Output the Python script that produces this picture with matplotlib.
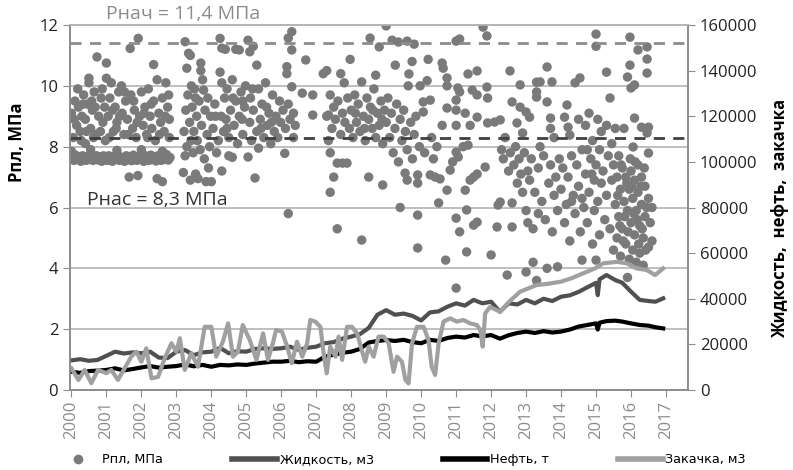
import numpy as np
import matplotlib
matplotlib.use('Agg')
import matplotlib.pyplot as plt
from matplotlib.lines import Line2D

plt.rcParams['font.family'] = ['Open Sans', 'DejaVu Sans']

# Рпл, МПа (год, значение) — по периодам
rpl_2000_2002 = [
    (2000.02, 7.62), (2000.07, 7.55), (2000.12, 7.72), (2000.17, 7.58), (2000.22, 7.66), (2000.27, 7.52),
    (2000.32, 7.7), (2000.37, 7.6), (2000.42, 7.55), (2000.47, 7.68), (2000.52, 7.58), (2000.57, 7.74),
    (2000.62, 7.55), (2000.67, 7.63), (2000.72, 7.7), (2000.77, 7.56), (2000.82, 7.66), (2000.87, 7.52),
    (2000.92, 7.7), (2000.97, 7.6), (2001.02, 7.55), (2001.07, 7.7), (2001.12, 7.6), (2001.17, 7.52),
    (2001.22, 7.68), (2001.27, 7.58), (2001.32, 7.74), (2001.37, 7.55), (2001.42, 7.65), (2001.47, 7.6),
    (2001.52, 7.52), (2001.57, 7.7), (2001.62, 7.58), (2001.67, 7.66), (2001.72, 7.54), (2001.77, 7.72),
    (2001.82, 7.6), (2001.87, 7.55), (2001.92, 7.68), (2001.97, 7.58), (2002.02, 7.64), (2002.07, 7.52),
    (2002.12, 7.7), (2002.17, 7.6), (2002.22, 7.55), (2002.27, 7.72), (2002.32, 7.58), (2002.37, 7.65),
    (2002.42, 7.53), (2002.47, 7.7), (2002.52, 7.6), (2002.57, 7.55), (2002.62, 7.68), (2002.67, 7.58),
    (2002.72, 7.74), (2002.77, 7.56), (2002.82, 7.64),
    (2000.0, 7.85), (2000.55, 7.9), (2001.3, 7.88), (2002.0, 7.9), (2002.6, 7.85),
    (2000.0, 9.1), (2000.05, 8.3), (2000.1, 9.5), (2000.15, 8.7), (2000.2, 9.3), (2000.25, 8.5),
    (2000.3, 9.0), (2000.35, 9.7), (2000.4, 8.9), (2000.45, 9.4), (2000.5, 10.25), (2000.5, 10.1),
    (2000.55, 8.6), (2000.6, 9.2), (2000.65, 9.8), (2000.7, 8.4), (2000.73, 10.95), (2000.78, 9.0),
    (2000.85, 9.6), (2000.9, 8.8), (2000.95, 9.3), (2000.97, 8.2), (2000.4, 8.1),
    (2000.08, 8.9), (2000.18, 9.9), (2000.28, 8.2), (2000.33, 9.4), (2000.43, 8.5), (2000.58, 9.5),
    (2000.63, 8.3), (2000.68, 9.3), (2000.83, 8.5), (2000.88, 9.9),
    (2001.0, 10.75), (2001.0, 10.25), (2001.05, 9.0), (2001.1, 9.6), (2001.14, 10.1), (2001.2, 8.5),
    (2001.25, 9.3), (2001.3, 8.8), (2001.35, 9.8), (2001.43, 10.0), (2001.45, 9.1), (2001.5, 8.4),
    (2001.55, 9.5), (2001.6, 8.9), (2001.65, 7.0), (2001.68, 11.23), (2001.7, 9.7), (2001.75, 8.6),
    (2001.8, 9.2), (2001.85, 8.3), (2001.9, 7.05), (2001.91, 11.56), (2001.95, 9.0),
    (2001.08, 8.3), (2001.18, 9.2), (2001.28, 8.6), (2001.38, 9.0), (2001.52, 9.8), (2001.62, 8.4),
    (2001.78, 9.5), (2001.88, 8.8),
    (2002.0, 9.8), (2002.05, 8.7), (2002.1, 9.3), (2002.15, 8.4), (2002.2, 9.9), (2002.25, 9.0),
    (2002.3, 8.6), (2002.35, 10.7), (2002.35, 9.5), (2002.4, 8.2), (2002.45, 10.2), (2002.45, 6.95),
    (2002.5, 9.1), (2002.55, 8.8), (2002.6, 6.85), (2002.6, 9.6), (2002.65, 8.5), (2002.7, 10.1),
    (2002.75, 9.3), (2002.8, 8.3), (2002.8, 8.9),
    (2002.08, 9.1), (2002.18, 8.3), (2002.28, 9.4), (2002.52, 8.4), (2002.68, 9.0), (2002.78, 9.7),
]
rpl_2003_2006 = [
    (2003.2, 7.15), (2003.22, 8.5), (2003.25, 11.45), (2003.27, 9.2), (2003.3, 10.58), (2003.3, 8.0),
    (2003.33, 9.7), (2003.35, 11.07), (2003.38, 8.8), (2003.4, 11.0), (2003.4, 6.9), (2003.43, 10.0),
    (2003.45, 9.3), (2003.48, 7.8), (2003.5, 8.5), (2003.52, 9.9), (2003.55, 7.1), (2003.58, 9.0),
    (2003.6, 8.2), (2003.62, 6.95), (2003.65, 9.5), (2003.7, 10.75), (2003.7, 10.5), (2003.72, 8.7),
    (2003.75, 10.2), (2003.78, 9.86), (2003.8, 7.6), (2003.82, 9.2), (2003.85, 6.85), (2003.88, 8.4),
    (2003.9, 9.6), (2003.95, 8.0), (2003.98, 9.0),
    (2003.25, 7.7), (2003.42, 8.2), (2003.55, 9.6), (2003.68, 7.9), (2003.92, 7.3),
    (2004.0, 6.85), (2004.05, 8.6), (2004.1, 9.4), (2004.15, 7.8), (2004.2, 8.2), (2004.25, 11.56),
    (2004.25, 10.45), (2004.28, 9.0), (2004.3, 11.24), (2004.3, 10.1), (2004.3, 7.2), (2004.35, 8.5),
    (2004.38, 9.6), (2004.4, 11.2), (2004.42, 8.9), (2004.45, 9.9), (2004.5, 7.7), (2004.5, 8.3),
    (2004.55, 9.2), (2004.6, 10.2), (2004.6, 7.65), (2004.65, 8.7), (2004.7, 11.2), (2004.7, 9.5),
    (2004.75, 8.1), (2004.8, 11.18), (2004.8, 9.0), (2004.85, 9.8), (2004.9, 8.4), (2004.95, 9.3),
    (2004.98, 10.0),
    (2004.12, 9.0), (2004.45, 8.6), (2004.62, 9.6), (2004.88, 8.9), (2004.9, 9.5),
    (2005.05, 11.5), (2005.05, 7.66), (2005.1, 11.12), (2005.1, 8.8), (2005.12, 9.6), (2005.15, 8.2),
    (2005.2, 11.3), (2005.2, 9.2), (2005.25, 6.97), (2005.3, 10.68), (2005.3, 8.5), (2005.35, 7.95),
    (2005.35, 9.9), (2005.4, 8.9), (2005.45, 9.4), (2005.5, 8.3), (2005.55, 10.1), (2005.6, 8.7),
    (2005.65, 9.1), (2005.7, 8.1), (2005.75, 9.7), (2005.8, 8.5), (2005.85, 9.0), (2005.9, 8.3),
    (2005.95, 9.5), (2005.98, 8.8),
    (2005.18, 9.9), (2005.42, 8.6), (2005.58, 9.3), (2005.72, 8.8),
    (2006.05, 9.2), (2006.1, 7.78), (2006.12, 8.6), (2006.16, 10.63), (2006.16, 10.4), (2006.2, 11.57),
    (2006.2, 9.4), (2006.2, 5.8), (2006.25, 8.9), (2006.3, 11.78), (2006.3, 11.18), (2006.3, 9.97),
    (2006.35, 8.3), (2006.35, 9.1), (2006.4, 8.7), (2006.6, 9.76), (2006.7, 10.85), (2006.9, 9.7),
    (2006.9, 9.04),
]
rpl_2007_2010 = [
    (2007.2, 10.4), (2007.3, 10.5), (2007.3, 9.0), (2007.35, 8.2), (2007.35, 9.04), (2007.4, 9.7),
    (2007.4, 7.8), (2007.4, 6.5), (2007.45, 8.6), (2007.5, 7.0), (2007.5, 9.3), (2007.55, 8.9),
    (2007.6, 7.46), (2007.6, 5.3), (2007.62, 9.5), (2007.7, 10.4), (2007.7, 8.4), (2007.75, 7.46),
    (2007.75, 9.1), (2007.8, 10.1), (2007.82, 8.8), (2007.88, 7.46), (2007.9, 9.6), (2007.95, 8.6),
    (2007.97, 10.87),
    (2008.0, 9.2), (2008.05, 8.3), (2008.1, 9.7), (2008.15, 8.8), (2008.2, 9.4), (2008.25, 8.5),
    (2008.3, 10.13), (2008.3, 4.93), (2008.35, 9.0), (2008.4, 8.2), (2008.45, 9.6), (2008.5, 7.0),
    (2008.5, 8.9), (2008.54, 11.57), (2008.55, 9.3), (2008.6, 8.6), (2008.65, 9.9), (2008.7, 10.35),
    (2008.7, 8.3), (2008.75, 9.1), (2008.8, 11.28), (2008.8, 8.7), (2008.85, 9.5), (2008.9, 6.74),
    (2008.9, 8.1), (2008.95, 9.2),
    (2008.12, 9.1), (2008.38, 8.6), (2008.62, 9.2), (2008.88, 8.9),
    (2009.0, 11.97), (2009.0, 8.8), (2009.05, 9.6), (2009.1, 8.3), (2009.15, 9.1), (2009.17, 11.5),
    (2009.2, 7.8), (2009.26, 10.68), (2009.25, 8.6), (2009.3, 9.4), (2009.35, 11.44), (2009.35, 7.5),
    (2009.4, 6.0), (2009.4, 8.9), (2009.45, 8.2), (2009.5, 9.2), (2009.54, 7.13), (2009.55, 8.5),
    (2009.6, 11.47), (2009.6, 6.9), (2009.6, 7.9), (2009.63, 10.0), (2009.65, 10.39), (2009.7, 8.8),
    (2009.74, 10.8), (2009.75, 7.6), (2009.8, 11.37), (2009.8, 8.4), (2009.85, 9.0), (2009.9, 7.07),
    (2009.9, 6.8), (2009.9, 5.75), (2009.9, 4.67), (2009.95, 8.0), (2009.97, 10.0),
    (2010.06, 9.47), (2010.06, 9.14), (2010.1, 7.8), (2010.17, 10.17), (2010.2, 10.87), (2010.26, 9.53),
    (2010.26, 7.07), (2010.3, 8.3), (2010.35, 7.6), (2010.4, 7.0), (2010.45, 8.0), (2010.5, 6.15),
    (2010.54, 6.94), (2010.6, 10.75), (2010.6, 8.7), (2010.63, 10.58), (2010.7, 4.27), (2010.74, 10.26),
    (2010.74, 10.0), (2010.74, 9.27), (2010.74, 6.57), (2010.83, 7.23), (2010.9, 7.5),
]
rpl_2011_2013 = [
    (2011.0, 11.47), (2011.0, 9.53), (2011.0, 9.2), (2011.0, 8.7), (2011.0, 7.82), (2011.0, 5.65),
    (2011.0, 3.35), (2011.05, 9.93), (2011.06, 7.66), (2011.1, 11.54), (2011.1, 9.8), (2011.1, 5.2),
    (2011.2, 8.0), (2011.26, 9.1), (2011.26, 6.57), (2011.3, 5.92), (2011.3, 4.54), (2011.34, 10.39),
    (2011.34, 8.05), (2011.4, 8.7), (2011.4, 6.9), (2011.46, 9.86), (2011.5, 7.0), (2011.5, 5.42),
    (2011.6, 10.49), (2011.6, 9.7), (2011.6, 8.97), (2011.6, 7.1), (2011.6, 5.52), (2011.77, 11.93),
    (2011.83, 7.33), (2011.88, 11.64), (2011.88, 9.96), (2011.9, 9.6), (2011.9, 8.78),
    (2012.0, 4.44), (2012.1, 8.81), (2012.17, 5.36), (2012.2, 6.08), (2012.26, 8.88), (2012.26, 6.18),
    (2012.3, 7.9), (2012.35, 7.6), (2012.4, 8.3), (2012.46, 3.78), (2012.5, 7.2), (2012.54, 10.49),
    (2012.55, 7.8), (2012.6, 9.47), (2012.6, 6.15), (2012.6, 5.36), (2012.65, 7.4), (2012.7, 8.0),
    (2012.74, 8.78), (2012.75, 6.8), (2012.8, 7.6), (2012.83, 10.03), (2012.83, 9.3), (2012.85, 7.1),
    (2012.9, 8.45), (2012.9, 6.5), (2012.95, 7.8),
    (2013.0, 9.14), (2013.0, 3.88), (2013.0, 5.9), (2013.05, 7.2), (2013.05, 5.5), (2013.1, 8.97),
    (2013.1, 6.9), (2013.15, 7.6), (2013.2, 4.2), (2013.2, 5.3), (2013.25, 6.5), (2013.3, 10.12),
    (2013.3, 9.63), (2013.3, 3.6), (2013.3, 9.8), (2013.35, 7.3), (2013.35, 5.8), (2013.4, 10.13),
    (2013.4, 8.0), (2013.45, 6.2), (2013.5, 7.7), (2013.55, 5.6), (2013.6, 10.62), (2013.6, 9.47),
    (2013.6, 4.0), (2013.65, 6.8), (2013.7, 8.94), (2013.7, 8.6), (2013.7, 7.4), (2013.74, 10.13),
    (2013.75, 5.2), (2013.8, 8.3), (2013.8, 6.4), (2013.85, 7.0), (2013.9, 4.05), (2013.9, 5.9),
    (2013.95, 7.6),
]
rpl_2014_2016 = [
    (2014.0, 6.6), (2014.05, 7.3), (2014.1, 8.97), (2014.1, 5.5), (2014.15, 6.1), (2014.17, 9.37),
    (2014.2, 8.64), (2014.2, 7.0), (2014.25, 8.38), (2014.25, 4.9), (2014.3, 7.7), (2014.35, 6.4),
    (2014.4, 10.1), (2014.4, 5.8), (2014.45, 7.4), (2014.5, 8.9), (2014.5, 6.7), (2014.54, 10.26),
    (2014.55, 5.2), (2014.6, 4.27), (2014.6, 7.9), (2014.65, 6.0), (2014.7, 8.7), (2014.7, 7.1),
    (2014.75, 5.5), (2014.8, 9.1), (2014.8, 6.5), (2014.85, 7.6), (2014.9, 4.8), (2014.9, 8.2),
    (2014.95, 6.9), (2014.95, 5.9),
    (2014.3, 6.2), (2014.6, 6.3), (2014.75, 7.9), (2014.88, 7.1),
    (2015.0, 11.7), (2015.0, 11.3), (2015.0, 4.27), (2015.0, 7.4), (2015.05, 8.9), (2015.05, 6.2),
    (2015.1, 7.9), (2015.1, 5.1), (2015.15, 8.5), (2015.15, 6.8), (2015.2, 7.2), (2015.25, 5.6),
    (2015.3, 10.45), (2015.3, 8.7), (2015.3, 6.4), (2015.35, 7.7), (2015.4, 9.6), (2015.4, 5.3),
    (2015.45, 8.1), (2015.45, 6.9), (2015.5, 7.4), (2015.5, 4.6), (2015.55, 8.6), (2015.55, 6.1),
    (2015.6, 7.0), (2015.6, 5.0), (2015.65, 7.7), (2015.65, 5.7), (2015.7, 6.6), (2015.7, 4.4),
    (2015.75, 7.3), (2015.75, 5.3), (2015.8, 6.2), (2015.8, 8.6), (2015.85, 4.8), (2015.85, 7.0),
    (2015.9, 10.29), (2015.9, 5.9), (2015.9, 3.7), (2015.95, 6.6), (2015.97, 11.6), (2015.97, 10.68),
    (2015.95, 4.3),
    (2015.62, 6.4), (2015.68, 5.4), (2015.72, 7.4), (2015.78, 4.9), (2015.82, 5.7), (2015.88, 6.8),
    (2015.92, 5.2), (2015.98, 7.6),
    (2016.0, 9.93), (2016.0, 7.2), (2016.0, 5.5), (2016.06, 7.99), (2016.05, 6.3), (2016.05, 4.6),
    (2016.1, 10.03), (2016.1, 8.94), (2016.1, 6.9), (2016.1, 5.1), (2016.15, 5.9), (2016.15, 4.2),
    (2016.2, 11.18), (2016.2, 7.4), (2016.2, 6.5), (2016.25, 5.4), (2016.25, 4.5), (2016.3, 8.64),
    (2016.3, 6.1), (2016.3, 7.0), (2016.35, 5.0), (2016.35, 4.1), (2016.4, 6.7), (2016.4, 5.7),
    (2016.46, 11.28), (2016.46, 10.88), (2016.46, 10.42), (2016.46, 8.45), (2016.5, 8.64), (2016.5, 7.79),
    (2016.5, 6.3), (2016.5, 4.7), (2016.55, 5.5), (2016.6, 6.0), (2016.6, 4.9),
    (2016.02, 6.7), (2016.08, 5.8), (2016.12, 7.5), (2016.18, 5.6), (2016.22, 4.8), (2016.28, 6.7),
    (2016.32, 5.3), (2016.38, 7.3), (2016.42, 4.6), (2016.45, 6.0),
]

# Жидкость, м3
liq_year = [2000.0, 2000.25, 2000.5, 2000.75, 2001.0, 2001.25, 2001.5, 2001.75, 2002.0, 2002.25, 2002.5,
            2002.75, 2003.0, 2003.25, 2003.5, 2003.75, 2004.0, 2004.25, 2004.5, 2004.75, 2005.0, 2005.25,
            2005.5, 2005.75, 2006.0, 2006.25, 2006.5, 2006.75, 2007.0, 2007.25, 2007.5, 2007.75, 2008.0,
            2008.25, 2008.5, 2008.75, 2009.0, 2009.25, 2009.5, 2009.75, 2010.0, 2010.25, 2010.5, 2010.75,
            2011.0, 2011.25, 2011.5, 2011.75, 2012.0, 2012.25, 2012.5, 2012.75, 2013.0, 2013.25, 2013.5,
            2013.75, 2014.0, 2014.25, 2014.5, 2014.75, 2015.0, 2015.05, 2015.1, 2015.3, 2015.55, 2015.75,
            2016.0, 2016.25, 2016.5, 2016.7, 2016.92]
liq_val = [13000, 13500, 12800, 13200, 15000, 16800, 16000, 16500, 16100, 16800, 14200,
           14000, 16800, 17500, 15300, 16500, 16800, 18500, 16100, 17000, 16800, 18000,
           18300, 18000, 18300, 19000, 17600, 18500, 19000, 20500, 21000, 22500, 23400,
           24500, 27200, 33000, 35000, 33000, 33500, 32500, 30500, 34000, 34500, 36500,
           38000, 37000, 39500, 38000, 38700, 34300, 38000, 37500, 39500, 38000, 40000,
           39000, 40900, 41500, 43000, 45000, 47000, 41600, 48500, 50400, 48200, 47000,
           43100, 39500, 39000, 38700, 40200]

# Нефть, т
oil_year = liq_year
oil_val = [8000, 7500, 8300, 8500, 8800, 9500, 8600, 9200, 9900, 10500, 9800,
           10200, 10500, 11200, 10400, 11000, 10200, 11000, 10800, 11200, 11000, 11600,
           12000, 12400, 12400, 12800, 12200, 12600, 12400, 14600, 15500, 16300, 16800,
           18000, 20800, 21500, 21900, 21500, 22000, 21000, 20500, 22000, 21500, 22800,
           23400, 23000, 24100, 23500, 24100, 22500, 24000, 25000, 25600, 25000, 25800,
           25200, 25600, 26500, 27800, 28500, 29200, 26500, 29500, 30200, 30400, 30000,
           29200, 28500, 28200, 27500, 27000]

# Закачка, м3
inj_year = [2000.0, 2000.2, 2000.38, 2000.57, 2000.76, 2001.0, 2001.14, 2001.33, 2001.52, 2001.71, 2001.86,
            2002.0, 2002.14, 2002.29, 2002.48, 2002.67, 2002.86, 2003.0, 2003.1, 2003.24, 2003.43, 2003.62,
            2003.81, 2004.0, 2004.14, 2004.33, 2004.48, 2004.62, 2004.76, 2004.9, 2005.1, 2005.29, 2005.48,
            2005.62, 2005.76, 2005.85, 2006.02, 2006.17, 2006.3, 2006.45, 2006.6, 2006.74, 2006.83, 2006.97,
            2007.12, 2007.21, 2007.3, 2007.4, 2007.55, 2007.64, 2007.74, 2007.88, 2008.02, 2008.17, 2008.3,
            2008.4, 2008.5, 2008.64, 2008.78, 2008.93, 2009.07, 2009.21, 2009.31, 2009.45, 2009.55, 2009.64,
            2009.74, 2009.88, 2010.07, 2010.21, 2010.3, 2010.4, 2010.5, 2010.64, 2010.83, 2011.02, 2011.21,
            2011.4, 2011.59, 2011.69, 2011.76, 2011.83, 2011.97, 2012.26, 2012.5, 2012.83, 2013.3, 2013.6,
            2014.0, 2014.3, 2014.64, 2014.97, 2015.2, 2015.6, 2015.88, 2016.16, 2016.45, 2016.69, 2016.92]
inj_val = [9500, 4400, 8800, 3000, 8800, 7400, 8800, 4400, 9500, 14600, 16800,
           12400, 18300, 5100, 5800, 14000, 20500, 16800, 22700, 8800, 16100, 10200,
           27700, 27700, 14600, 21200, 29200, 14600, 16800, 28500, 21900, 13200, 24800,
           13200, 20500, 26300, 25600, 19000, 11700, 21200, 14600, 20500, 30700, 30000,
           27700, 16100, 7300, 19000, 14600, 23400, 13200, 27700, 27700, 24800, 17500,
           12400, 19000, 14600, 23400, 23400, 20500, 8000, 14600, 12400, 4400, 2900,
           20500, 27700, 27700, 21900, 10200, 6600, 20500, 30000, 31400, 30000, 30700,
           29200, 28500, 26300, 19000, 33600, 36400, 34300, 38500, 43100, 46000, 46500,
           47500, 49000, 51200, 53300, 55500, 56200, 55500, 53300, 52600, 50400, 53300]

p_init = 11.4
p_sat = 8.3

rpl = rpl_2000_2002 + rpl_2003_2006 + rpl_2007_2010 + rpl_2011_2013 + rpl_2014_2016
rpl_x = [p[0] for p in rpl]
rpl_y = [p[1] for p in rpl]

fig = plt.figure(figsize=(7.93, 4.70), dpi=100)
ax = fig.add_axes([0.0883, 0.1702, 0.7793, 0.7766])
ax2 = ax.twinx()

spine_col = '#8c8c8c'

# точки давления
ax.scatter(rpl_x, rpl_y, s=46, color='#7a7a7a', edgecolors='none', zorder=3, label='Рпл, МПа')
ax.axhline(p_init, color='#8c8c8c', lw=2, ls=(0, (4, 3)), zorder=4)
ax.axhline(p_sat, color='#404040', lw=2, ls=(0, (4, 3)), zorder=4)

ax.set_xlim(1999.96, 2017.63)
ax.set_ylim(0, 12)
ax.set_yticks(np.arange(0, 13, 2))
ax.set_xticks(np.arange(2000, 2018))
ax.set_xticklabels([str(y) for y in range(2000, 2018)], rotation=90, fontsize=12, color='#333333')
ax.tick_params(axis='y', labelsize=12, colors='#8c8c8c', labelcolor='#222222', length=5, direction='out')
ax.tick_params(axis='x', colors='#8c8c8c', length=5, direction='out', pad=3)
ax.grid(axis='y', color='#b4b4b4', lw=1.2)
ax.set_axisbelow(True)
ax.set_ylabel('Рпл, МПа', fontsize=12, fontweight='bold')
ax.yaxis.set_label_coords(-0.072, 0.68)

# линии добычи и закачки
ax2.plot(liq_year, liq_val, color='#505050', lw=3, label='Жидкость, м3')
ax2.plot(oil_year, oil_val, color='#000000', lw=3, label='Нефть, т')
ax2.plot(inj_year, inj_val, color='#a0a0a0', lw=3, label='Закачка, м3')
ax2.set_ylim(0, 160000)
ax2.set_yticks(np.arange(0, 160001, 20000))
ax2.tick_params(axis='y', labelsize=12, colors='#8c8c8c', labelcolor='#222222', length=5, direction='out')
ax2.set_ylabel('Жидкость,  нефть,  закачка', fontsize=12, fontweight='bold')
ax2.yaxis.set_label_coords(1.135, 0.47)

for a in (ax, ax2):
    for s in a.spines.values():
        s.set_color(spine_col)
        s.set_linewidth(1.2)
    a.spines['top'].set_color('#b4b4b4')

ax.text(2001.0, 12.05, 'Рнач = 11,4 МПа', fontsize=14, color='#8c8c8c', va='bottom', ha='left', clip_on=False)
ax.text(2000.45, 6.25, 'Рнас = 8,3 МПа', fontsize=14, color='#333333', va='center', ha='left')

handles = [
    Line2D([], [], marker='o', ls='none', color='#7a7a7a', markersize=6),
    Line2D([], [], color='#505050', lw=4),
    Line2D([], [], color='#000000', lw=4),
    Line2D([], [], color='#a0a0a0', lw=4),
]
labels = ['Рпл, МПа', 'Жидкость, м3', 'Нефть, т', 'Закачка, м3']
fig.legend(handles, labels, loc='center', bbox_to_anchor=(0.505, 0.022), ncol=4, frameon=False,
           handlelength=3.5, columnspacing=5.4, handletextpad=0.2, borderpad=0.1,
           prop={'family': ['Liberation Sans Narrow', 'DejaVu Sans'], 'size': 9.2})

fig.savefig('out.png', dpi=100)
